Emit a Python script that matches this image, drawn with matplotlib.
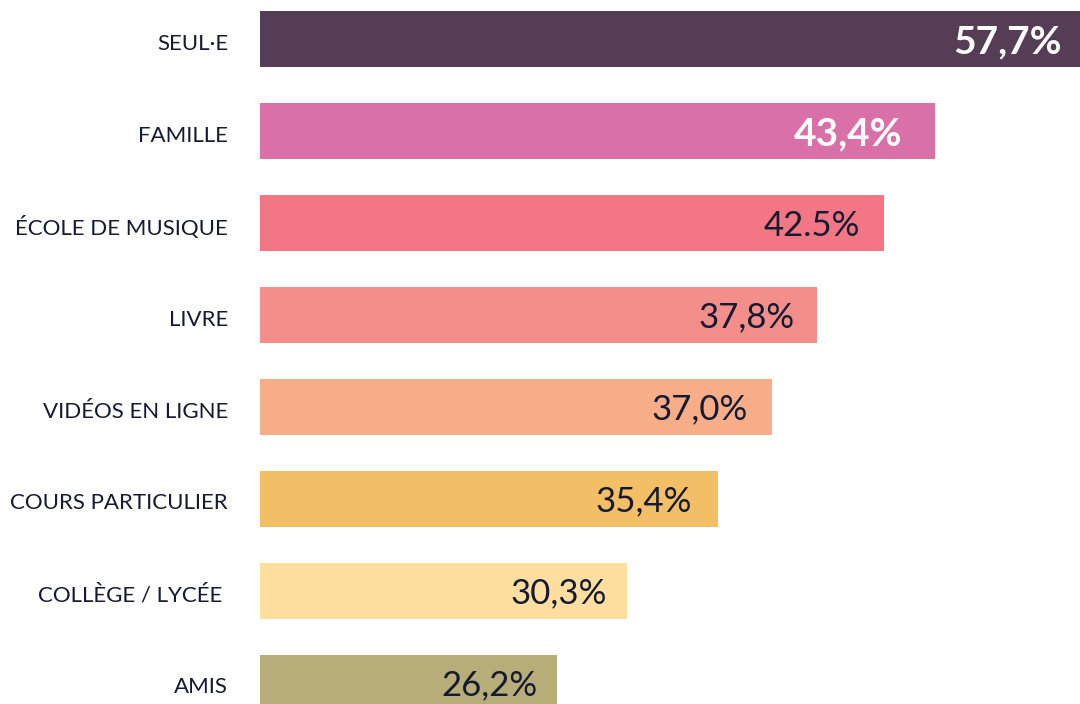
import matplotlib.pyplot as plt

categories = ["SEUL·E", "FAMILLE", "ÉCOLE DE MUSIQUE", "LIVRE", "VIDÉOS EN LIGNE",
              "COURS PARTICULIER", "COLLÈGE / LYCÉE ", "AMIS"]
labels = ["57,7%", "43,4%", "42.5%", "37,8%", "37,0%", "35,4%", "30,3%", "26,2%"]
# bar lengths as drawn in the picture (not proportional to the printed labels)
bar_len = [57.7, 47.5, 43.9, 39.2, 36.0, 32.2, 25.8, 20.9]
colors = ["#553d55", "#d970a8", "#f27684", "#f48e8b", "#f7ad88", "#f2be66", "#ffdfa0", "#b7ad78"]
label_white = [True, True, False, False, False, False, False, False]
label_pad = [18, 33, 24, 22, 24, 26, 20, 20]  # px from bar end

plt.rcParams['font.family'] = ['Lato', 'DejaVu Sans']

fig = plt.figure(figsize=(10.8, 7.04), dpi=100)
ax = fig.add_axes([260 / 1080, 0, 820 / 1080, 1])

y = list(range(len(categories)))
ax.barh(y, bar_len, height=0.61, color=colors)
ax.set_xlim(0, 57.7)
ax.set_ylim(7.23, -0.424)
ax.axis("off")

px = 57.7 / 820
for i, (v, lab) in enumerate(zip(bar_len, labels)):
    if label_white[i]:
        ax.text(v - label_pad[i] * px, i + 0.03, lab, ha="right", va="center", fontsize=28,
                color="white", fontweight="bold")
    else:
        ax.text(v - label_pad[i] * px, i + 0.03, lab, ha="right", va="center", fontsize=25,
                color="#151a30")
    ax.text(-32 * px, i + 0.05, categories[i], ha="right", va="center", fontsize=16,
            color="#151a30", clip_on=False)

fig.savefig("out.png", dpi=100)
